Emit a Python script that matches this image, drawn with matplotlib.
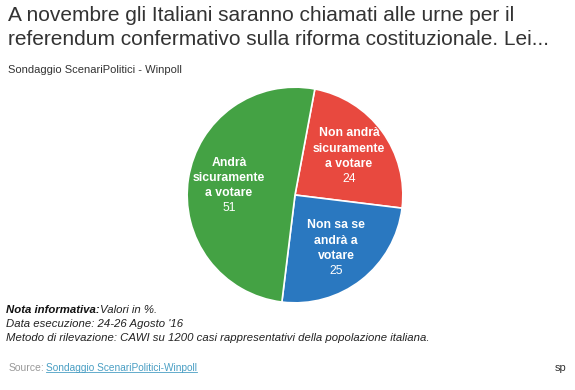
import numpy as np
import matplotlib
matplotlib.use("Agg")
import matplotlib.pyplot as plt

plt.rcParams['font.family'] = ['Liberation Sans', 'DejaVu Sans']

# data
categories = ['Non andrà\nsicuramente\na votare', 'Non sa se\nandrà a\nvotare', 'Andrà\nsicuramente\na votare']
values = [24, 25, 51]
colors = ['#e8493f', '#2a78c0', '#44a244']

title = ("A novembre gli Italiani saranno chiamati alle urne per il\n"
         "referendum confermativo sulla riforma costituzionale. Lei...")
subtitle = "Sondaggio ScenariPolitici - Winpoll"

W, H = 575, 390
fig = plt.figure(figsize=(W / 100, H / 100), dpi=100)
fig.patch.set_facecolor('white')

def fx(px):
    return px / W

def fy(py):
    return 1 - py / H

# pie: center (295, 195), radius 110 px
cx, cy, r = 295, 195, 110
ax = fig.add_axes([fx(cx - r), fy(cy + r), 2 * r / W, 2 * r / H])
wedges, _ = ax.pie(values, colors=colors, startangle=79.4, counterclock=False,
                   wedgeprops=dict(edgecolor='white', linewidth=1.2))
ax.set_xlim(-1.02, 1.02)
ax.set_ylim(-1.02, 1.02)

for w, name, v in zip(wedges, categories, values):
    ang = np.deg2rad((w.theta1 + w.theta2) / 2)
    x, y = 0.62 * np.cos(ang), 0.62 * np.sin(ang)
    ax.annotate(name, (x, y), xytext=(0, -10.5), textcoords='offset points',
                ha='center', va='bottom', color='white', fontsize=8.8,
                fontweight='bold', linespacing=1.38)
    ax.annotate(str(v), (x, y), xytext=(0, -12.5), textcoords='offset points',
                ha='center', va='top', color='white', fontsize=8.8)

# header
fig.text(fx(8), fy(6), title, ha='left', va='top', fontsize=15,
         color='#333333', linespacing=1.32)
fig.text(fx(8), fy(70), subtitle, ha='left', va='center', fontsize=8,
         color='#333333')

# notes
nota = fig.text(fx(6), fy(310), "Nota informativa:", ha='left', va='center',
                fontsize=8.2, fontweight='bold', style='italic', color='#111111')
fig.canvas.draw()
nb = nota.get_window_extent().transformed(fig.transFigure.inverted())
fig.text(nb.x1 + 0.001, fy(310), "Valori in %.", ha='left', va='center',
         fontsize=8.2, style='italic', color='#222222')
fig.text(fx(6), fy(324), "Data esecuzione: 24-26 Agosto '16", ha='left',
         va='center', fontsize=8.2, style='italic', color='#222222')
fig.text(fx(6), fy(338),
         "Metodo di rilevazione: CAWI su 1200 casi rappresentativi della popolazione italiana.",
         ha='left', va='center', fontsize=8.2, style='italic', color='#222222')

# source
fig.text(fx(9), fy(368), "Source:", ha='left', va='center', fontsize=7.5,
         color='#999999')
link = fig.text(fx(46), fy(368), "Sondaggio ScenariPolitici-Winpoll", ha='left',
                va='center', fontsize=7.3, color='#4a9fc4')
fig.canvas.draw()
bb = link.get_window_extent().transformed(fig.transFigure.inverted())
fig.add_artist(plt.Line2D([bb.x0, bb.x1], [bb.y0 + 0.002, bb.y0 + 0.002],
                          transform=fig.transFigure, color='#4a9fc4', lw=0.6))
fig.text(fx(566), fy(368), "sp", ha='right', va='center', fontsize=8,
         color='#333333')

fig.savefig('out.png', dpi=100)
